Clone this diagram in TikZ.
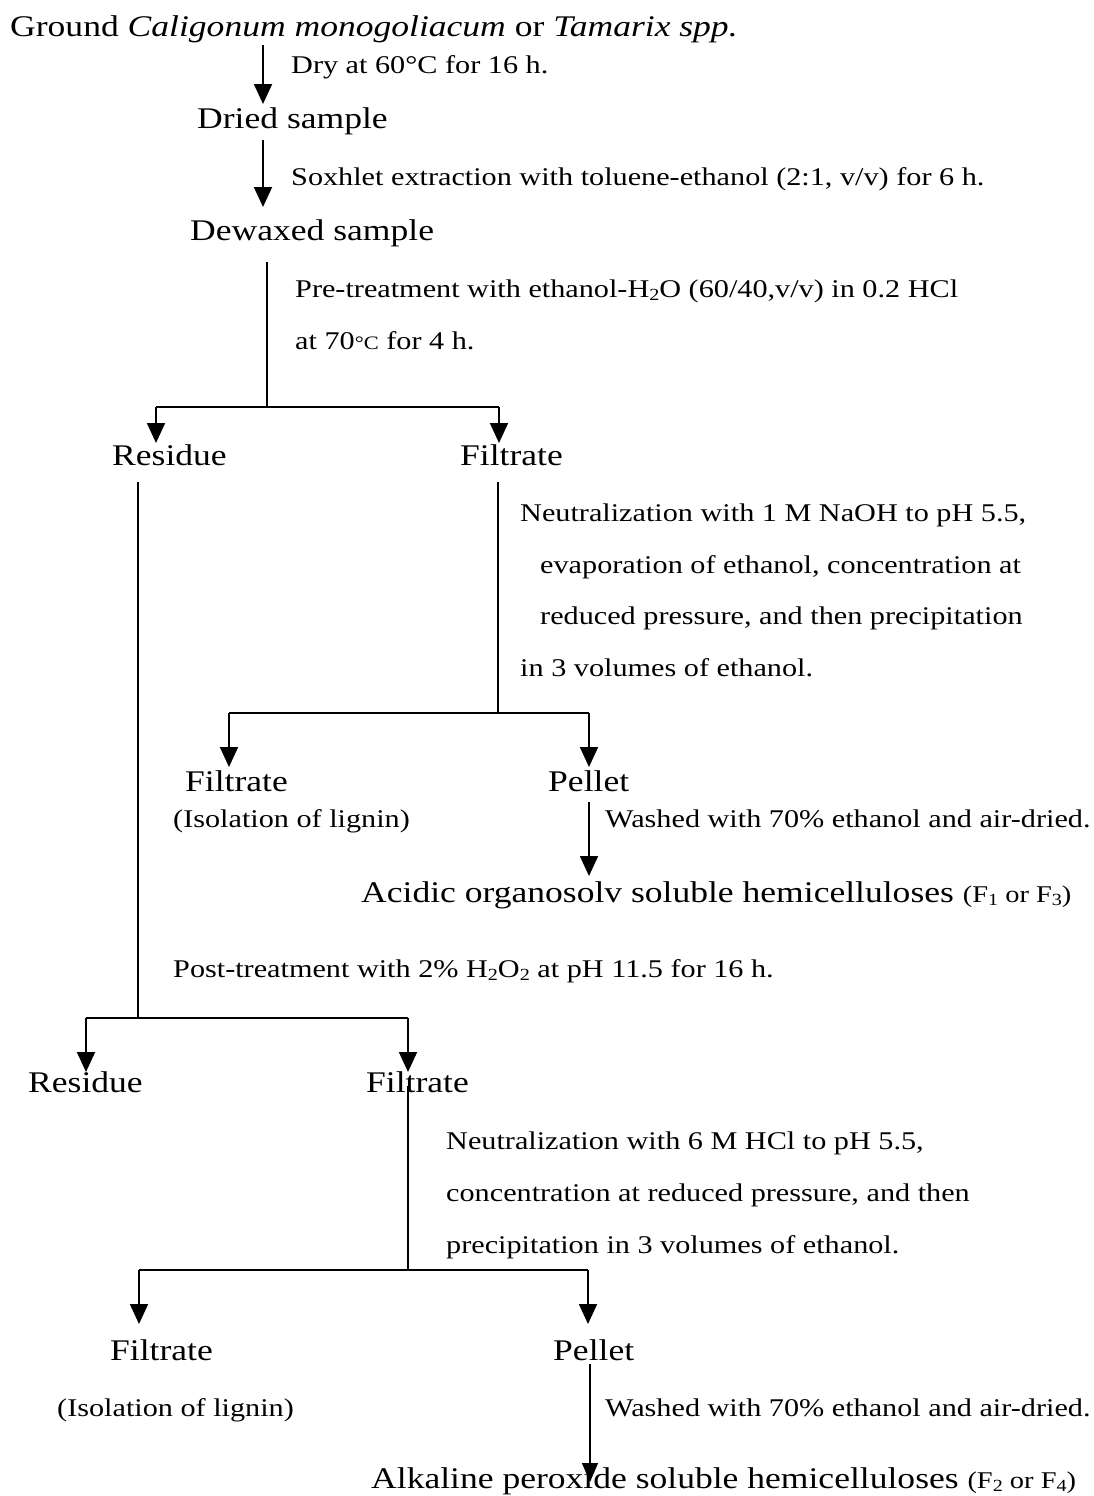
\documentclass[tikz,border=0pt]{standalone}
\usepackage{fontspec}
\setmainfont{Liberation Serif}[FakeStretch=1.185]
\usetikzlibrary{arrows.meta}
\tikzset{
  mainlbl/.style={anchor=base west, inner sep=0pt, font=\fontsize{30}{36}\selectfont},
  annlbl/.style={anchor=base west, inner sep=0pt, font=\fontsize{25.5}{30}\selectfont},
  flow/.style={line width=1.9pt},
  flowarr/.style={line width=1.9pt, -{Triangle[length=20pt,width=18pt]}},
  thinarr/.style={line width=1.1pt, -{Triangle[length=19pt,width=16pt]}},
}
\newcommand{\smallsub}[1]{\raisebox{-0.3ex}{\fontsize{17}{17}\selectfont #1}}
\begin{document}
\begin{tikzpicture}[x=1pt,y=-1pt]
\useasboundingbox (0,0) rectangle (1094,1496);

% ---------- nodes ----------
\node[mainlbl] (ground) at (10,37) {Ground \textit{Caligonum monogoliacum} or \textit{Tamarix spp.}};
\node[annlbl] (dry) at (291,74) {Dry at 60°C for 16 h.};
\node[mainlbl] (dried) at (197,128) {Dried sample};
\node[annlbl] (soxhlet) at (291,185) {Soxhlet extraction with toluene-ethanol (2:1, v/v) for 6 h.};
\node[mainlbl] (dewaxed) at (190,240) {Dewaxed sample};
\node[annlbl] (pre1) at (295,297) {Pre-treatment with ethanol-H\smallsub{2}O (60/40,v/v) in 0.2 HCl};
\node[annlbl] (pre2) at (295,349) {at 70{\fontsize{19}{19}\selectfont °C} for 4 h.};

\node[mainlbl] (res1) at (112,465) {Residue};
\node[mainlbl] (fil1) at (460,465) {Filtrate};

\node[annlbl] (neu1) at (520,521) {Neutralization with 1 M NaOH to pH 5.5,};
\node[annlbl] (neu2) at (540,573) {evaporation of ethanol, concentration at};
\node[annlbl] (neu3) at (540,624) {reduced pressure, and then precipitation};
\node[annlbl] (neu4) at (520,676) {in 3 volumes of ethanol.};

\node[mainlbl] (fil2) at (185,791) {Filtrate};
\node[annlbl] (iso1) at (173,827) {(Isolation of lignin)};
\node[mainlbl] (pel1) at (548,791) {Pellet};
\node[annlbl] (wash1) at (605,827) {Washed with 70\% ethanol and air-dried.};
\node[mainlbl] (acid) at (361,902) {Acidic organosolv soluble hemicelluloses {\fontsize{24}{24}\selectfont (F\smallsub{1} or F\smallsub{3})}};

\node[annlbl] (post) at (173,977) {Post-treatment with 2\% H\smallsub{2}O\smallsub{2} at pH 11.5 for 16 h.};

\node[mainlbl] (res2) at (28,1092) {Residue};
\node[mainlbl] (fil3) at (366,1092) {Filtrate};

\node[annlbl] (neu5) at (446,1149) {Neutralization with 6 M HCl to pH 5.5,};
\node[annlbl] (neu6) at (446,1201) {concentration at reduced pressure, and then};
\node[annlbl] (neu7) at (446,1253) {precipitation in 3 volumes of ethanol.};

\node[mainlbl] (fil4) at (110,1360) {Filtrate};
\node[annlbl] (iso2) at (57,1416) {(Isolation of lignin)};
\node[mainlbl] (pel2) at (553,1360) {Pellet};
\node[annlbl] (wash2) at (605,1416) {Washed with 70\% ethanol and air-dried.};
\node[mainlbl] (alk) at (371,1488) {Alkaline peroxide soluble hemicelluloses {\fontsize{24}{24}\selectfont (F\smallsub{2} or F\smallsub{4})}};

% ---------- coordinates ----------
\coordinate (a1s) at (263,45);   \coordinate (a1e) at (263,104);
\coordinate (a2s) at (263,140);  \coordinate (a2e) at (263,207);
\coordinate (a3s) at (267,262);  \coordinate (j1) at (267,407);
\coordinate (h1l) at (156,407);  \coordinate (h1r) at (499,407);
\coordinate (t1l) at (156,443);  \coordinate (t1r) at (499,443);
\coordinate (r1s) at (138,482);  \coordinate (j3) at (138,1018);
\coordinate (f1s) at (498,482);  \coordinate (j2) at (498,713);
\coordinate (h2l) at (229,713);  \coordinate (h2r) at (589,713);
\coordinate (t2l) at (229,767);  \coordinate (t2r) at (589,767);
\coordinate (p1s) at (589,802);  \coordinate (p1e) at (589,876);
\coordinate (h3l) at (86,1018);  \coordinate (h3r) at (408,1018);
\coordinate (t3l) at (86,1072);  \coordinate (t3r) at (408,1072);
\coordinate (f3s) at (408,1086); \coordinate (j4) at (408,1270);
\coordinate (h4l) at (139,1270); \coordinate (h4r) at (588,1270);
\coordinate (t4l) at (139,1324); \coordinate (t4r) at (588,1324);
\coordinate (p2s) at (590,1364); \coordinate (p2e) at (590,1482);

% ---------- connectors ----------
\draw[flowarr] (a1s) -- (a1e);
\draw[flowarr] (a2s) -- (a2e);
\draw[flow] (a3s) -- (j1);
\draw[flow] (h1l) -- (h1r);
\draw[flowarr] (h1l) -- (t1l);
\draw[flowarr] (h1r) -- (t1r);

\draw[flow] (r1s) -- (j3);
\draw[flow] (f1s) -- (j2);
\draw[flow] (h2l) -- (h2r);
\draw[flowarr] (h2l) -- (t2l);
\draw[flowarr] (h2r) -- (t2r);
\draw[flowarr] (p1s) -- (p1e);

\draw[flow] (h3l) -- (h3r);
\draw[flowarr] (h3l) -- (t3l);
\draw[flowarr] (h3r) -- (t3r);
\draw[flow] (f3s) -- (j4);
\draw[flow] (h4l) -- (h4r);
\draw[flowarr] (h4l) -- (t4l);
\draw[flowarr] (h4r) -- (t4r);
\draw[thinarr] (p2s) -- (p2e);
\end{tikzpicture}
\end{document}
